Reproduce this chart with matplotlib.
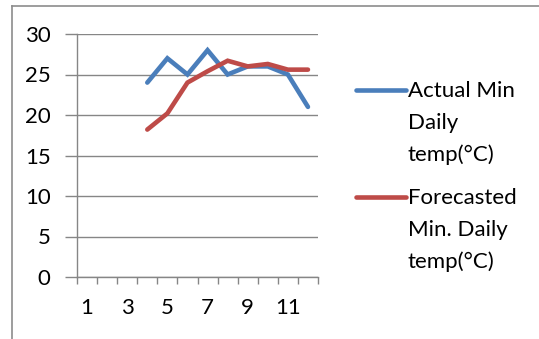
import matplotlib
matplotlib.use("Agg")
import matplotlib.pyplot as plt
from matplotlib.lines import Line2D
import numpy as np

plt.rcParams['font.family'] = ['Lato', 'DejaVu Sans']

days = list(range(1, 13))
actual = [None, None, None, 24, 27, 25, 28, 25, 26, 26, 25, 21]
forecast = [None, None, None, 18.2, 20.2, 24.0, 25.4, 26.7, 26.0, 26.3, 25.6, 25.6]
y_ticks = [0, 5, 10, 15, 20, 25, 30]
x_labels = ['1', '3', '5', '7', '9', '11']

W, H = 539, 339
fig = plt.figure(figsize=(W / 100, H / 100), dpi=100)

def fx(px):
    return px / W

def fy(py):
    return 1 - py / H

ax = fig.add_axes([fx(77), fy(277), fx(318) - fx(77), fy(34) - fy(277)])

pos = np.arange(len(days))
act = np.array([np.nan if v is None else v for v in actual], dtype=float)
fc = np.array([np.nan if v is None else v for v in forecast], dtype=float)

blue = '#4A7EBB'
red = '#BE4B48'
grid = '#868686'
fs = 16

ax.plot(pos, act, color=blue, lw=3.3, solid_capstyle='round', solid_joinstyle='miter', zorder=3)
ax.plot(pos, fc, color=red, lw=3.3, solid_capstyle='round', solid_joinstyle='miter', zorder=3)

ax.set_xlim(-0.5, len(days) - 0.5)
ax.set_ylim(0, 30)

ax.set_yticks(y_ticks)
ax.set_yticklabels([str(v) for v in y_ticks])
ax.yaxis.grid(True, color=grid, lw=1.0)
ax.set_axisbelow(True)

# category boundaries carry the tick marks; odd days get labels
ax.set_xticks(np.arange(-0.5, len(days), 1.0), minor=True)
ax.set_xticks(pos[::2])
ax.set_xticklabels(x_labels)
ax.tick_params(axis='x', which='major', length=0, pad=15, labelsize=fs, colors='black')
ax.tick_params(axis='x', which='minor', length=5, width=1, color=grid, direction='out')
ax.tick_params(axis='y', length=9, width=1, color=grid, pad=10, labelsize=fs)

for s in ['top', 'right']:
    ax.spines[s].set_visible(False)
for s in ['left', 'bottom']:
    ax.spines[s].set_color(grid)
    ax.spines[s].set_linewidth(1.0)

# chart-area border
fig.add_artist(Line2D([fx(12), fx(12)], [0, fy(6)], color='#8c8c8c', lw=1.2))
fig.add_artist(Line2D([fx(12), 1], [fy(6), fy(6)], color='#8c8c8c', lw=1.2))

# legend
entries = [
    (blue, 90, ['Actual Min', 'Daily', 'temp(°C)'], [97, 129, 161]),
    (red, 197, ['Forecasted', 'Min. Daily', 'temp(°C)'], [204, 236, 268]),
]
for color, ly, lines, bases in entries:
    fig.add_artist(Line2D([fx(356), fx(406)], [fy(ly), fy(ly)], color=color, lw=3.3,
                          solid_capstyle='round'))
    for txt, b in zip(lines, bases):
        fig.text(fx(408), fy(b), txt, fontsize=fs, va='baseline', ha='left')

fig.savefig('out.png', dpi=100)
